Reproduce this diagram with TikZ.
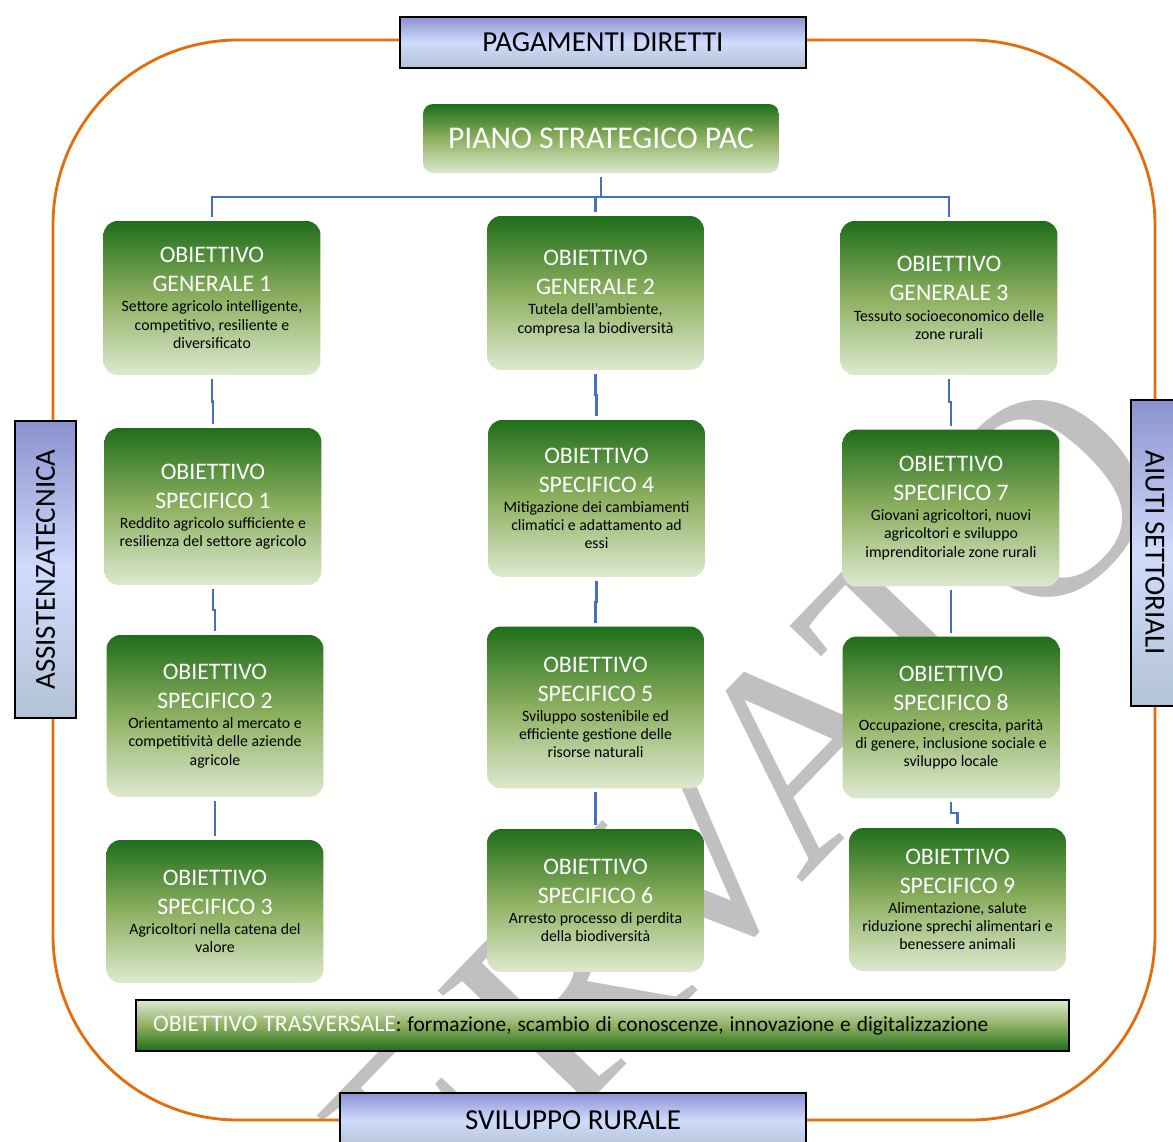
\documentclass[tikz,border=0pt]{standalone}
\usepackage{fontspec}
\setmainfont{Carlito}
\newfontfamily\markfont{Liberation Serif}
\usetikzlibrary{calc}

\definecolor{leafdark}{HTML}{1F6E1B}
\definecolor{leafmid}{HTML}{8DB060}
\definecolor{leaflight}{HTML}{DDE9D0}
\definecolor{bluedark}{HTML}{8C92CF}
\definecolor{bluelight}{HTML}{D0DBFC}
\definecolor{blueedge}{HTML}{B3C3D6}
\definecolor{frameorange}{HTML}{E46C0A}
\definecolor{linkblue}{HTML}{4470BE}
\definecolor{markgray}{HTML}{C0C0C0}

\newcommand{\objhead}[1]{{\fontsize{13.5}{16.5}\selectfont\color{white}#1\par}}
\newcommand{\objtext}[1]{{\vspace{1pt}\fontsize{9}{10.4}\selectfont #1\par}}

\begin{document}
\begin{tikzpicture}[x=0.02cm,y=-0.02cm]
                \tikzstyle{every node}+=[inner sep=0pt]
                \tikzstyle{goal}=[rounded corners=0.28cm, top color=leafdark, bottom color=leaflight, middle color=leafmid, text width=4.34cm, align=flush center]
                \tikzstyle{tag}=[draw=black, line width=1pt, top color=bluedark, bottom color=blueedge, middle color=bluelight, font=\fontsize{16.5}{19}\selectfont]
                \tikzstyle{link}=[draw=linkblue, line width=1.2pt, shorten <=2pt, shorten >=2pt]
                \tikzstyle{jog}=[to path={|- ($(\tikztostart)!.5!(\tikztotarget)$) -| (\tikztotarget)}]
                \useasboundingbox (0,0) rectangle (1173,1142);
                \clip (0,0) rectangle (1173,1142);
                % watermark
                \node[rotate=46, anchor=base east, text=markgray, font=\markfont\fontsize{162}{164}\selectfont] (mark) at (1181,490) {RISERVATO};
                % frame
                \draw [frameorange, line width=1.6pt, rounded corners=3.7cm] (53,40) rectangle (1155,1120);
                \node[tag, minimum width=8.12cm, minimum height=1.02cm] (direct) at (603,42.5) {PAGAMENTI DIRETTI};
                \node[tag, minimum width=9.32cm, minimum height=1.1cm] (rural) at (573,1120.5) {SVILUPPO RURALE};
                \node[tag, rotate=90, minimum width=5.94cm, minimum height=1.22cm] (assist) at (45.5,569.5) {ASSISTENZATECNICA};
                \node[tag, rotate=-90, minimum width=6.12cm, minimum height=0.96cm] (sector) at (1155,553) {AIUTI SETTORIALI};
                % plan
                \node[rounded corners=0.2cm, top color=leafdark, bottom color=leaflight, middle color=leafmid, minimum width=7.12cm, minimum height=1.38cm, text=white, font=\fontsize{18}{21}\selectfont] (piano) at (601,138.5) {PIANO STRATEGICO PAC};
                % general goals
                \node[goal, minimum height=3.08cm] (g1) at (212,298) {\objhead{OBIETTIVO\\GENERALE 1}\objtext{Settore agricolo intelligente,\\competitivo, resiliente e\\diversificato}};
                \node[goal, minimum height=3.08cm] (g2) at (595.5,293) {\objhead{OBIETTIVO\\GENERALE 2}\objtext{Tutela dell’ambiente,\\compresa la biodiversità}};
                \node[goal, minimum height=3.08cm] (g3) at (949,298) {\objhead{OBIETTIVO\\GENERALE 3}\objtext{Tessuto socioeconomico delle\\zone rurali}};
                % specific goals
                \node[goal, minimum height=3.14cm] (s1) at (213,506.5) {\objhead{OBIETTIVO\\SPECIFICO 1}\objtext{Reddito agricolo sufficiente e\\resilienza del settore agricolo}};
                \node[goal, minimum height=3.24cm] (s2) at (215,716) {\objhead{OBIETTIVO\\SPECIFICO 2}\objtext{Orientamento al mercato e\\competitività delle aziende\\agricole}};
                \node[goal, minimum height=2.86cm] (s3) at (215,911.5) {\objhead{OBIETTIVO\\SPECIFICO 3}\objtext{Agricoltori nella catena del\\valore}};
                \node[goal, minimum height=3.14cm] (s4) at (596.5,498.5) {\objhead{OBIETTIVO\\SPECIFICO 4}\objtext{Mitigazione dei cambiamenti\\climatici e adattamento ad\\essi}};
                \node[goal, minimum height=3.24cm] (s5) at (595.5,707.5) {\objhead{OBIETTIVO\\SPECIFICO 5}\objtext{Sviluppo sostenibile ed\\efficiente gestione delle\\risorse naturali}};
                \node[goal, minimum height=2.86cm] (s6) at (595.5,900.5) {\objhead{OBIETTIVO\\SPECIFICO 6}\objtext{Arresto processo di perdita\\della biodiversità}};
                \node[goal, minimum height=3.14cm] (s7) at (951,508) {\objhead{OBIETTIVO\\SPECIFICO 7}\objtext{Giovani agricoltori, nuovi\\agricoltori e sviluppo\\imprenditoriale zone rurali}};
                \node[goal, minimum height=3.24cm] (s8) at (951,717.5) {\objhead{OBIETTIVO\\SPECIFICO 8}\objtext{Occupazione, crescita, parità\\di genere, inclusione sociale e\\sviluppo locale}};
                \node[goal, minimum height=2.86cm] (s9) at (957.5,899.5) {\objhead{OBIETTIVO\\SPECIFICO 9}\objtext{Alimentazione, salute\\riduzione sprechi alimentari e\\benessere animali}};
                % cross-cutting goal
                \node[draw=black, line width=1pt, top color=leaflight, bottom color=leafdark, middle color=leafmid, text width=17.98cm, inner xsep=0.34cm, minimum height=1.02cm, align=left] (cross) at (602.5,1025.5) {{\fontsize{13.5}{16}\selectfont\color{white}OBIETTIVO TRASVERSALE}{\fontsize{12.2}{16}\selectfont: formazione, scambio di conoscenze, innovazione e digitalizzazione}};
                % links
                \coordinate (bus) at (601,197);
                \draw[link, shorten >=0pt] (piano.south) -- (bus);
                \draw[link, shorten <=0pt] (bus) -| (g1.north);
                \draw[link, shorten <=0pt] (bus) -| (g2.north);
                \draw[link, shorten <=0pt] (bus) -| (g3.north);
                \draw[link] (g1.south) to[jog] (s1.north);
                \draw[link] (s1.south) to[jog] (s2.north);
                \draw[link] (s2.south) to[jog] (s3.north);
                \draw[link] (g2.south) to[jog] (s4.north);
                \draw[link] (s4.south) to[jog] (s5.north);
                \draw[link] (s5.south) to[jog] (s6.north);
                \draw[link] (g3.south) to[jog] (s7.north);
                \draw[link] (s7.south) to[jog] (s8.north);
                \draw[link] (s8.south) to[jog] (s9.north);
            \end{tikzpicture}
\end{document}
